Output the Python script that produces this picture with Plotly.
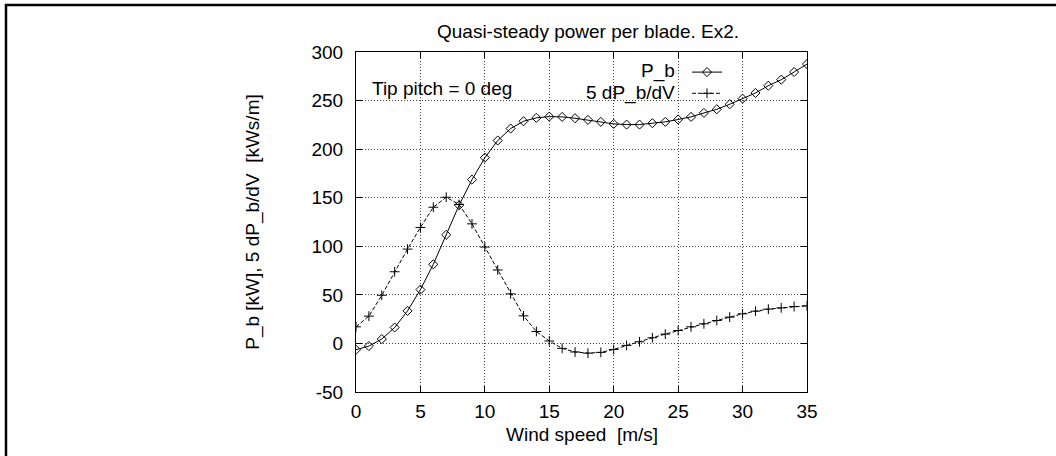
import plotly.graph_objects as go

wind_speed = list(range(0, 36))

p_b = [-6.5, -2.7, 4.5, 16.4, 33.5, 55.4, 81.4, 111.8, 142.3, 168.6,
       191.2, 208.9, 221.2, 228.7, 232.2, 233.5, 233.2, 231.8, 230.1, 228.1,
       226.0, 225.3, 225.3, 226.7, 228.1, 230.5, 233.2, 237.3, 241.0, 246.2,
       252.0, 257.8, 265.3, 271.5, 279.4, 287.6]

dp_b_dv5 = [17.1, 28.1, 49.6, 73.8, 97.1, 119.4, 140.2, 150.5, 143.0, 123.1,
            99.2, 75.6, 51.0, 28.4, 12.3, 2.5, -5.1, -8.8, -10.0, -9.2,
            -6.2, -2.0, 1.7, 5.8, 9.6, 13.3, 17.1, 20.2, 23.6, 27.1,
            30.5, 33.2, 35.3, 36.6, 38.0, 38.7]

title_text = "Quasi-steady power per blade. Ex2."
x_title = "Wind speed  [m/s]"
y_title = "P_b [kW], 5 dP_b/dV  [kWs/m]"
note_text = "Tip pitch = 0 deg"
series_names = ["P_b", "5 dP_b/dV"]
x_ticks = [0, 5, 10, 15, 20, 25, 30, 35]
y_ticks = [-50, 0, 50, 100, 150, 200, 250, 300]
y_tick_labels = ["-50", "0", "50", "100", "150", "200", "250", "300"]

FONT = "Liberation Sans, Arial, Helvetica, sans-serif"
FS = 19

W, H = 1056, 456
L, R, T, B = 356, 807, 52, 392

def px_x(p):
    return (p - L) / (R - L)

def px_y(p):
    return (B - p) / (B - T)

fig = go.Figure()
fig.add_trace(go.Scatter(
    x=wind_speed, y=p_b, mode="lines+markers", name=" ",
    line=dict(color="black", width=1),
    marker=dict(symbol="diamond-open", size=7, color="black",
                line=dict(color="black", width=1)),
))
fig.add_trace(go.Scatter(
    x=wind_speed, y=dp_b_dv5, mode="lines+markers", name=" ",
    line=dict(color="black", width=1, dash="4px,2px"),
    marker=dict(symbol="cross-thin", size=7, color="black",
                line=dict(color="black", width=1)),
))

axis_common = dict(
    showline=True, linecolor="black", linewidth=1, mirror="ticks",
    ticks="inside", ticklen=6, tickcolor="black", tickwidth=1,
    showgrid=True, gridcolor="#444", griddash="1px,2px", gridwidth=1,
    zeroline=False, tickfont=dict(family=FONT, size=FS, color="black"),
)

fig.update_xaxes(range=[0, 35], tickvals=x_ticks, ticklabelstandoff=2,
                 **axis_common)
fig.update_yaxes(range=[-50, 300], tickvals=y_ticks, ticktext=y_tick_labels,
                 ticklabelstandoff=8,
                 title=dict(text=y_title, font=dict(family=FONT, size=FS, color="black"), standoff=46),
                 **axis_common)

annotations = [
    dict(text=x_title, x=px_x(581.5), y=px_y(434.5), xref="paper", yref="paper",
         xanchor="center", yanchor="middle", showarrow=False,
         font=dict(family=FONT, size=FS, color="black")),
    dict(text=note_text, x=px_x(370), y=px_y(89), xref="paper", yref="paper",
         xanchor="left", yanchor="middle", showarrow=False,
         font=dict(family=FONT, size=FS, color="black")),
    dict(text=series_names[0], x=px_x(677), y=px_y(71), xref="paper", yref="paper",
         xanchor="right", yanchor="middle", showarrow=False,
         font=dict(family=FONT, size=FS, color="black")),
    dict(text=series_names[1], x=px_x(677), y=px_y(92.5), xref="paper", yref="paper",
         xanchor="right", yanchor="middle", showarrow=False,
         font=dict(family=FONT, size=FS, color="black")),
]

fig.update_layout(
    width=W, height=H,
    margin=dict(l=L, r=W - R, t=T, b=H - B, pad=0),
    paper_bgcolor="white", plot_bgcolor="white",
    font=dict(family=FONT, size=FS, color="black"),
    title=dict(text=title_text, x=588 / W, xanchor="center", xref="container",
               y=1 - 31 / H, yanchor="middle", yref="container",
               font=dict(family=FONT, size=FS, color="black")),
    showlegend=True,
    legend=dict(x=px_x(687), y=px_y(56.5), xanchor="left", yanchor="top",
                bgcolor="rgba(0,0,0,0)", borderwidth=0,
                font=dict(family=FONT, size=14, color="black"),
                itemwidth=30, tracegroupgap=0),
    annotations=annotations,
    shapes=[dict(type="rect", xref="paper", yref="paper",
                 x0=px_x(6), x1=px_x(1200), y0=px_y(600), y1=px_y(5),
                 line=dict(color="black", width=2.5), fillcolor="rgba(0,0,0,0)",
                 layer="above")],
)

fig.write_html("out.html")
